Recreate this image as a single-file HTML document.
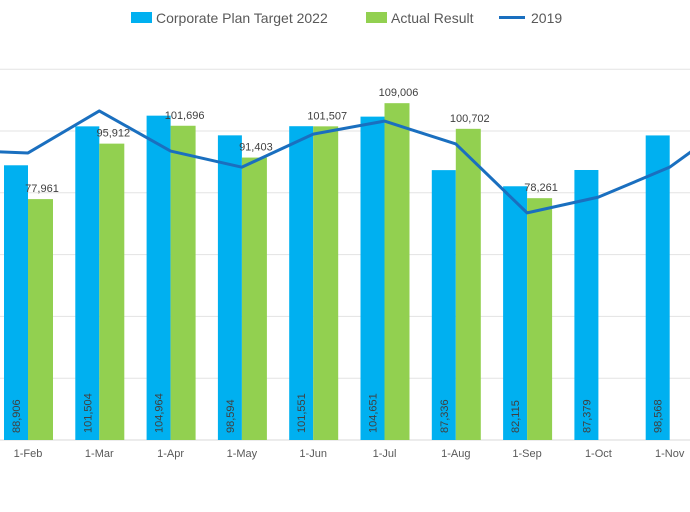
<!DOCTYPE html>
<html><head><meta charset="utf-8"><style>
body{margin:0;background:#fff;}
svg{display:block;font-family:"Liberation Sans",Arial,sans-serif;}
</style></head><body>
<svg id="chart" width="690" height="512">
<g id="grid"></g>
<g id="bars"></g>
<g id="line"></g>
<g id="labels"></g>
<g id="xaxis"></g>
<g>
  <g><rect x="131" y="12" width="21" height="11" fill="#00b0f0"/><text x="156" y="23" font-size="14" fill="#595959">Corporate Plan Target 2022</text></g>
  <g><rect x="366" y="12" width="21" height="11" fill="#92d050"/><text x="391" y="23" font-size="14" fill="#595959">Actual Result</text></g>
  <g><line x1="499" y1="17.5" x2="525" y2="17.5" stroke="#1a6fbf" stroke-width="3"/><text x="531" y="23" font-size="14" fill="#595959">2019</text></g>
</g>
</svg>
<script>
const categories=["1-Jan","1-Feb","1-Mar","1-Apr","1-May","1-Jun","1-Jul","1-Aug","1-Sep","1-Oct","1-Nov","1-Dec"];
const target2022=[95000,88906,101504,104964,98594,101551,104651,87336,82115,87379,98568,100000];
const actual=[90000,77961,95912,101696,91403,101507,109006,100702,78261,null,null,null];
const line2019=[93800,92900,106500,93500,88300,99000,103200,95800,73500,78600,88300,105000];
const yTicks=[0,20000,40000,60000,80000,100000,120000];
const NS="http://www.w3.org/2000/svg";
const x0=-43.3,step=71.3;
function xPos(i){return x0+step*i;}
function yPos(v){return 440-v*0.00309;}
function el(t,a,p){const e=document.createElementNS(NS,t);for(const k in a)e.setAttribute(k,a[k]);p.appendChild(e);return e;}
const fmt=v=>v.toLocaleString("en-US");
const grid=document.getElementById("grid");
yTicks.forEach(v=>{const l=el("line",{x1:0,x2:690,y1:yPos(v),y2:yPos(v),stroke:v===0?"#d9d9d9":"#e3e3e3","stroke-width":1},grid);

});
const bars=document.getElementById("bars"),labels=document.getElementById("labels"),xa=document.getElementById("xaxis");
categories.forEach((c,i)=>{
  const cx=xPos(i);
  const tv=target2022[i];
  const b=el("rect",{x:cx-24,y:yPos(tv),width:24,height:440-yPos(tv),fill:"#00b0f0"},bars);
  
  
  const tl=el("text",{x:0,y:0,"font-size":11,fill:"#404040","text-anchor":"start",transform:`translate(${cx-8},${433}) rotate(-90)`},labels);
  tl.textContent=fmt(tv);
  
  
  const av=actual[i];
  if(av!==null){
    const g=el("rect",{x:cx,y:yPos(av),width:25,height:440-yPos(av),fill:"#92d050"},bars);
    
    
    const al=el("text",{x:cx+14,y:yPos(av)-7,"font-size":11,fill:"#404040","text-anchor":"middle"},labels);
    al.textContent=fmt(av);
    
    
  }
  const xl=el("text",{x:cx,y:457,"font-size":11,fill:"#595959","text-anchor":"middle"},xa);
  xl.textContent=c;
  
  
});
const pts=line2019.map((v,i)=>xPos(i)+","+yPos(v)).join(" ");
const pl=el("polyline",{points:pts,fill:"none",stroke:"#1a6fbf","stroke-width":3,"stroke-linejoin":"round"},document.getElementById("line"));


</script>
</body></html>
